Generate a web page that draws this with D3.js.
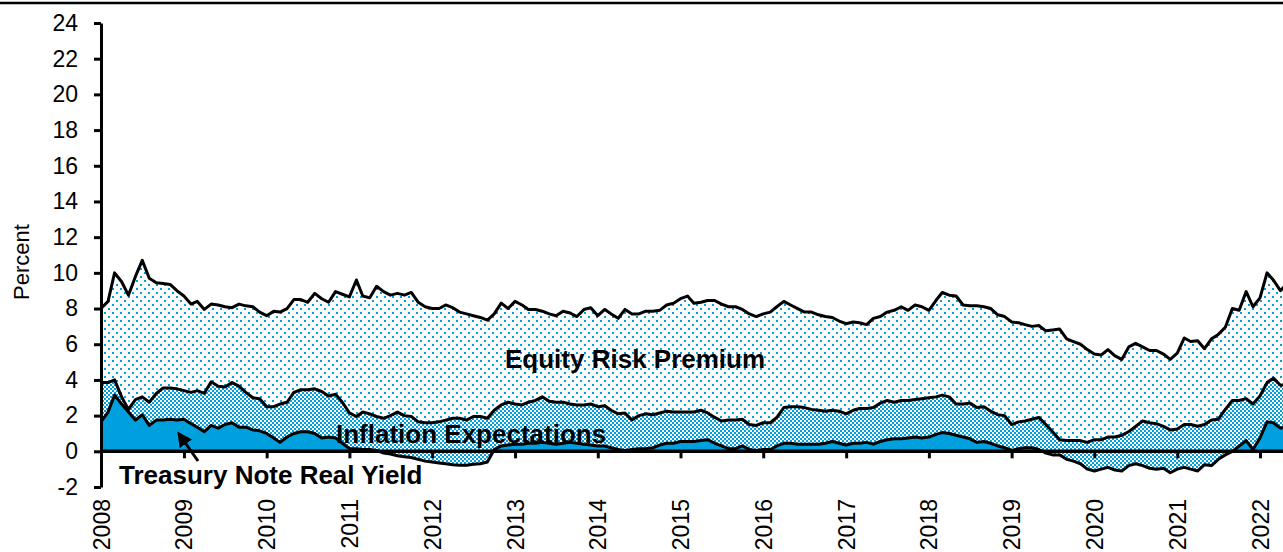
<!DOCTYPE html>
<html>
<head>
<meta charset="utf-8">
<script src="https://cdn.jsdelivr.net/npm/d3@7"></script>
<style>
  html, body { margin: 0; padding: 0; background: #fff; }
  svg { display: block; font-family: "Liberation Sans", Arial, sans-serif; }
</style>
</head>
<body>
<div id="vis"></div>
<script>
// monthly observations, Jan 2008 onwards
const startYear = 2008;

// expected equity return (top of the stack)
const equityReturn = [
  8.0, 8.4, 10.0, 9.5, 8.75, 9.8, 10.7, 9.7, 9.45, 9.4, 9.35, 9.0,
  8.7, 8.25, 8.4, 7.95, 8.25, 8.2, 8.1, 8.05, 8.25, 8.15, 8.1, 7.8,
  7.6, 7.85, 7.8, 8.0, 8.5, 8.5, 8.35, 8.85, 8.55, 8.35, 8.95, 8.8,
  8.65, 9.6, 8.7, 8.6, 9.25, 8.95, 8.75, 8.85, 8.75, 8.9, 8.35, 8.1,
  8.0, 8.0, 8.2, 8.05, 7.8, 7.7, 7.6, 7.5, 7.35, 7.7, 8.3, 8.0,
  8.4, 8.2, 7.95, 7.95, 7.85, 7.7, 7.6, 7.85, 7.75, 7.55, 7.95, 8.05,
  7.6, 7.95, 7.7, 7.45, 7.95, 7.7, 7.7, 7.85, 7.85, 7.9, 8.2, 8.3,
  8.55, 8.7, 8.3, 8.35, 8.45, 8.45, 8.25, 8.1, 8.1, 7.95, 7.7, 7.55,
  7.7, 7.8, 8.1, 8.4, 8.2, 8.0, 7.8, 7.8, 7.65, 7.55, 7.5, 7.3,
  7.15, 7.25, 7.2, 7.1, 7.45, 7.55, 7.8, 7.9, 8.1, 7.9, 8.2, 8.1,
  7.9, 8.45, 8.9, 8.75, 8.7, 8.2, 8.15, 8.15, 8.1, 8.0, 7.65, 7.55,
  7.25, 7.2, 7.1, 7.0, 7.05, 6.75, 6.8, 6.85, 6.3, 6.15, 6.0, 5.7,
  5.45, 5.4, 5.7, 5.35, 5.15, 5.85, 6.05, 5.85, 5.65, 5.65, 5.45, 5.15,
  5.5, 6.35, 6.15, 6.2, 5.75, 6.3, 6.55, 6.95, 8.0, 7.9, 8.95, 8.1,
  8.6, 10.0, 9.6, 9.0, 9.4
];

// nominal treasury note yield (real yield + inflation expectations)
const nominalYield = [
  3.85, 3.85, 4.0, 3.05, 2.35, 2.9, 3.05, 2.75, 3.25, 3.55, 3.55, 3.5,
  3.4, 3.3, 3.4, 3.25, 3.9, 3.65, 3.6, 3.85, 3.65, 3.3, 3.0, 2.95,
  2.5, 2.5, 2.65, 2.75, 3.3, 3.45, 3.45, 3.5, 3.35, 3.1, 3.2, 2.75,
  2.15, 1.95, 2.2, 2.1, 1.95, 1.85, 2.0, 2.2, 2.0, 1.95, 1.65, 1.6,
  1.6, 1.65, 1.75, 1.85, 1.85, 1.75, 1.95, 1.95, 1.85, 2.3, 2.6, 2.75,
  2.65, 2.6, 2.75, 2.85, 3.05, 2.8, 2.75, 2.75, 2.65, 2.6, 2.6, 2.65,
  2.5, 2.55, 2.3, 2.1, 2.15, 1.75, 2.0, 2.1, 2.05, 2.15, 2.25, 2.2,
  2.2, 2.2, 2.2, 2.3, 2.15, 1.9, 1.7, 1.75, 1.75, 1.8, 1.5, 1.45,
  1.6, 1.6, 1.9, 2.45, 2.5, 2.5, 2.45, 2.35, 2.3, 2.25, 2.3, 2.25,
  2.1, 2.3, 2.4, 2.4, 2.45, 2.7, 2.85, 2.75, 2.85, 2.85, 2.9, 2.95,
  3.0, 3.05, 3.15, 3.05, 2.65, 2.65, 2.7, 2.45, 2.5, 2.25, 2.05, 2.0,
  1.5, 1.65, 1.7, 1.8, 1.9, 1.5, 1.1, 0.65, 0.6, 0.6, 0.6, 0.5,
  0.65, 0.65, 0.8, 0.8, 0.9, 1.1, 1.4, 1.7, 1.6, 1.55, 1.4, 1.2,
  1.25, 1.5, 1.5, 1.4, 1.5, 1.75, 1.8, 2.35, 2.85, 2.85, 2.95, 2.65,
  3.1, 3.85, 4.1, 3.7, 3.75
];

// treasury note real yield
const realYield = [
  1.65, 2.2, 3.15, 2.65, 2.2, 1.75, 2.05, 1.45, 1.75, 1.75, 1.8, 1.75,
  1.8, 1.55, 1.35, 1.1, 1.45, 1.3, 1.5, 1.6, 1.35, 1.35, 1.2, 1.15,
  1.0, 0.75, 0.5, 0.8, 1.0, 1.1, 1.1, 1.0, 0.75, 0.8, 0.75, 0.45,
  0.15, 0.15, 0.1, 0.1, 0.05, -0.1, -0.15, -0.25, -0.3, -0.35, -0.45, -0.55,
  -0.6, -0.65, -0.7, -0.75, -0.78, -0.78, -0.72, -0.7, -0.6, 0.1, 0.3, 0.35,
  0.4, 0.4, 0.45, 0.45, 0.5, 0.45, 0.4, 0.45, 0.5, 0.45, 0.4, 0.35,
  0.3, 0.3, 0.2, 0.1, 0.05, 0.1, 0.15, 0.15, 0.2, 0.35, 0.45, 0.45,
  0.55, 0.55, 0.55, 0.6, 0.65, 0.45, 0.3, 0.15, 0.15, 0.3, 0.1, 0.05,
  0.1, 0.1, 0.3, 0.45, 0.45, 0.4, 0.4, 0.4, 0.4, 0.45, 0.55, 0.45,
  0.35, 0.45, 0.45, 0.5, 0.4, 0.55, 0.65, 0.7, 0.7, 0.75, 0.8, 0.75,
  0.8, 0.95, 1.05, 1.0, 0.9, 0.8, 0.7, 0.5, 0.55, 0.45, 0.3, 0.2,
  0.05, 0.15, 0.2, 0.2, 0.1, -0.1, -0.2, -0.2, -0.45, -0.55, -0.7, -1.0,
  -1.1, -1.0, -0.9, -1.05, -1.1, -0.8, -0.7, -0.8, -0.95, -1.0, -0.95, -1.2,
  -1.0, -0.9, -1.0, -1.1, -0.75, -0.8, -0.45, -0.2, 0.0, 0.3, 0.6, 0.1,
  0.75, 1.65, 1.6, 1.3, 1.35
];

const yTicks = d3.range(-2, 25, 2);
const xYears = d3.range(2008, 2023);

const width = 1283, height = 552;
const blue = "#00a0de";

// build stacked rows: real yield, inflation expectations, equity risk premium
const rows = realYield.map((r, i) => ({
  date: new Date(startYear, i, 1),
  real: r,
  infl: nominalYield[i] - r,
  erp: equityReturn[i] - nominalYield[i]
}));
const keys = ["real", "infl", "erp"];
const series = d3.stack().keys(keys)(rows);

const svg = d3.select("#vis").append("svg")
  .attr("width", width)
  .attr("height", height);

// fill patterns
const defs = svg.append("defs");
const dots = defs.append("pattern")
  .attr("id", "dots")
  .attr("patternUnits", "userSpaceOnUse")
  .attr("width", 8).attr("height", 8);
dots.append("rect").attr("width", 8).attr("height", 8).attr("fill", "#fff");
dots.selectAll("rect.dot")
  .data([[0, 0], [4, 4]])
  .join("rect")
  .attr("class", "dot")
  .attr("x", d => d[0]).attr("y", d => d[1])
  .attr("width", 2).attr("height", 2)
  .attr("shape-rendering", "crispEdges")
  .attr("fill", blue);

const checks = defs.append("pattern")
  .attr("id", "checks")
  .attr("patternUnits", "userSpaceOnUse")
  .attr("width", 4).attr("height", 4);
checks.append("rect").attr("width", 4).attr("height", 4).attr("fill", blue);
checks.selectAll("rect.cell")
  .data([[0, 0], [2, 2]])
  .join("rect")
  .attr("class", "cell")
  .attr("x", d => d[0]).attr("y", d => d[1])
  .attr("width", 2).attr("height", 2)
  .attr("shape-rendering", "crispEdges")
  .attr("fill", "#fff");

const fills = { real: blue, infl: "url(#checks)", erp: "url(#dots)" };

// scales
const x = d3.scaleTime()
  .domain([new Date(2008, 0, 1), new Date(2022, 0, 1)])
  .range([101, 1260]);

const y = d3.scaleLinear()
  .domain([-2, 24])
  .range([487, 23]);

// top rule
svg.append("line")
  .attr("x1", 0).attr("x2", width)
  .attr("y1", 3).attr("y2", 3)
  .attr("stroke", "#000")
  .attr("stroke-width", 2.5);

// areas
const area = d3.area()
  .x(d => x(d.data.date))
  .y0(d => y(d[0]))
  .y1(d => y(d[1]));

svg.append("g")
  .selectAll("path")
  .data(series)
  .join("path")
  .attr("fill", d => fills[d.key])
  .attr("d", area);

// outlines on top of each layer
const line = d3.line()
  .x(d => x(d.data.date))
  .y(d => y(d[1]));

svg.append("g")
  .selectAll("path")
  .data(series)
  .join("path")
  .attr("fill", "none")
  .attr("stroke", "#000")
  .attr("stroke-width", 3)
  .attr("stroke-linejoin", "round")
  .attr("d", line);

// y axis
const yAxis = svg.append("g")
  .attr("transform", "translate(101,0)")
  .call(d3.axisLeft(y)
    .tickValues(yTicks)
    .tickSize(7)
    .tickSizeOuter(0)
    .tickPadding(16)
    .tickFormat(d => String(d)));
yAxis.select(".domain").attr("stroke-width", 3);
yAxis.selectAll(".tick line").attr("stroke-width", 3);
yAxis.selectAll("text")
  .attr("font-size", 23)
  .attr("font-family", "Liberation Sans, Arial, sans-serif")
  .attr("fill", "#000");

// x axis along zero
const xAxis = svg.append("g")
  .attr("transform", `translate(0,${y(0)})`)
  .call(d3.axisBottom(x)
    .tickValues(xYears.map(yr => new Date(yr, 0, 1)))
    .tickSize(7)
    .tickSizeOuter(0)
    .tickFormat(""));
xAxis.select(".domain").remove();
xAxis.selectAll(".tick line").attr("stroke-width", 3);
xAxis.append("line")
  .attr("x1", 101).attr("x2", width)
  .attr("stroke", "#000")
  .attr("stroke-width", 3.5);

// year labels, rotated at the bottom
svg.append("g")
  .selectAll("text")
  .data(xYears)
  .join("text")
  .attr("transform", d => `translate(${x(new Date(d, 0, 1)) + 8.5},499) rotate(-90)`)
  .attr("text-anchor", "end")
  .attr("font-size", 23)
  .text(d => d);

// axis title
svg.append("text")
  .attr("transform", "translate(29,262) rotate(-90)")
  .attr("text-anchor", "middle")
  .attr("font-size", 22)
  .text("Percent");

// series labels
const labels = [
  { text: "Equity Risk Premium", x: 505, y: 368 },
  { text: "Inflation Expectations", x: 336, y: 443 },
  { text: "Treasury Note Real Yield", x: 119, y: 484 }
];
svg.append("g")
  .selectAll("text")
  .data(labels)
  .join("text")
  .attr("x", d => d.x)
  .attr("y", d => d.y)
  .attr("font-size", 26)
  .attr("font-weight", "bold")
  .text(d => d.text);

// arrow pointing to the real yield layer
defs.append("marker")
  .attr("id", "head")
  .attr("viewBox", "0 0 10 10")
  .attr("refX", 8).attr("refY", 5)
  .attr("markerWidth", 5).attr("markerHeight", 5)
  .attr("orient", "auto")
  .append("path")
  .attr("d", "M0,0L10,5L0,10z")
  .attr("fill", "#000");

svg.append("line")
  .attr("x1", 198).attr("y1", 461)
  .attr("x2", 179).attr("y2", 434)
  .attr("stroke", "#000")
  .attr("stroke-width", 3)
  .attr("marker-end", "url(#head)");
</script>
</body>
</html>
